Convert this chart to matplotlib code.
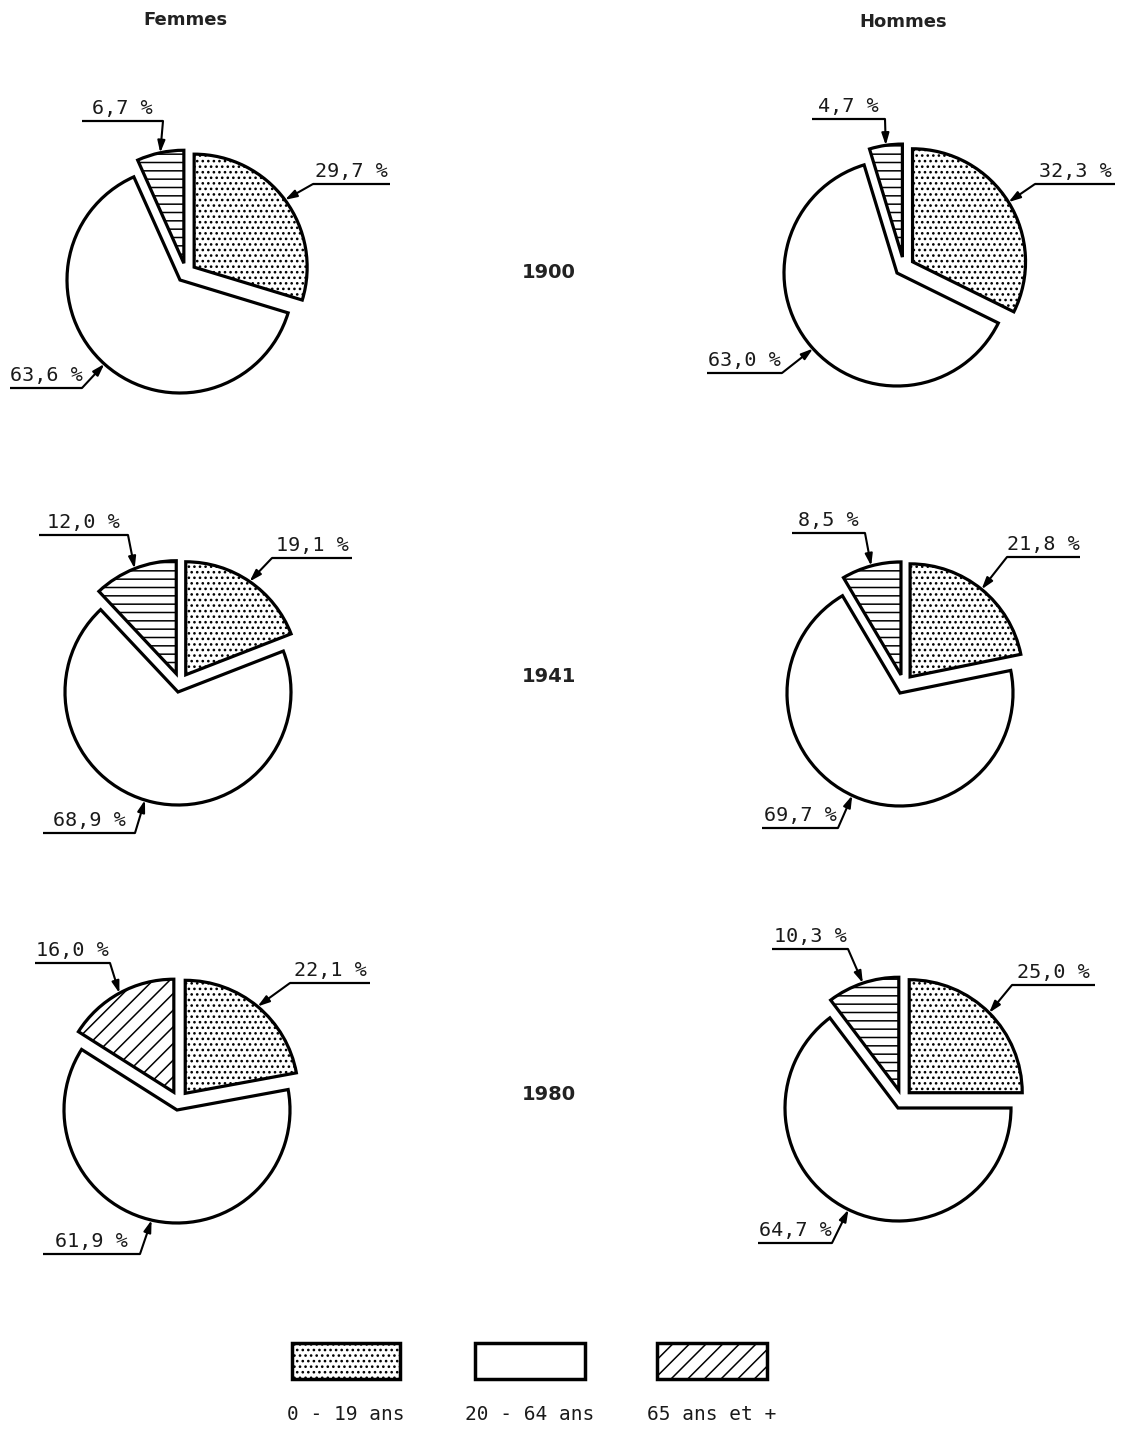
import numpy as np
import matplotlib.pyplot as plt
from matplotlib.patches import Rectangle

W, H = 1121, 1432

# Données
annees = ['1900', '1941', '1980']
ages = ['0 - 19 ans', '20 - 64 ans', '65 ans et +']
femmes_jeunes = [29.7, 19.1, 22.1]
femmes_actifs = [63.6, 68.9, 61.9]
femmes_vieux = [6.7, 12.0, 16.0]
hommes_jeunes = [32.3, 21.8, 25.0]
hommes_actifs = [63.0, 69.7, 64.7]
hommes_vieux = [4.7, 8.5, 10.3]

# Mise en page (pixels depuis le coin haut gauche)
rayon = 113
eclat = [0.09, 0.08, 0.09]
sommets_f = [(180, 280), (178, 692), (177, 1110)]
sommets_h = [(897, 273), (900, 693), (898, 1108)]
# soulignés : (x0, x1, y) pour jeunes, actifs, vieux
soul_f = [[(313, 390, 184), (10, 82, 388), (82, 163, 121)],
          [(272, 352, 558), (43, 135, 833), (39, 128, 535)],
          [(290, 370, 983), (43, 140, 1254), (35, 110, 963)]]
soul_h = [[(1035, 1115, 184), (707, 782, 373), (812, 885, 119)],
          [(1007, 1080, 557), (762, 838, 828), (792, 865, 533)],
          [(1012, 1095, 985), (758, 832, 1243), (772, 848, 949)]]
angle_actifs_f = [228, 253, 257]
angle_actifs_h = [222, 245, 244]
hachures_f = ['--', '--', '//']
hachures_h = ['--', '--', '--']

plt.rcParams['hatch.linewidth'] = 1.1
plt.rcParams['hatch.color'] = 'black'

fig = plt.figure(figsize=(W / 100, H / 100), dpi=100)
ax = fig.add_axes([0, 0, 1, 1])

mono = 'DejaVu Sans Mono'


def fmt(v):
    return ('%.1f' % v).replace('.', ',') + ' %'


def camembert(valeurs, sommet, soulignes, angle_actifs, hachure):
    # position du centre à partir du sommet de la part blanche
    tot = sum(valeurs)
    a1 = 90 - 360 * valeurs[0] / tot
    a2 = a1 - 360 * valeurs[1] / tot
    mid = np.radians((a1 + a2) / 2)
    cx = sommet[0] - eclat[1] * rayon * np.cos(mid)
    cy = (H - sommet[1]) - eclat[1] * rayon * np.sin(mid)

    wedges, _ = ax.pie(valeurs, center=(cx, cy), radius=rayon, startangle=90,
                       counterclock=False, explode=[e * rayon for e in eclat],
                       frame=True, colors=['white'] * 3,
                       hatch=['...', '', hachure],
                       wedgeprops=dict(edgecolor='black', linewidth=2.3))

    for i, w in enumerate(wedges):
        if i == 1:
            a = np.radians(angle_actifs)
        else:
            a = np.radians((w.theta1 + w.theta2) / 2)
        tip = (w.center[0] + w.r * np.cos(a), w.center[1] + w.r * np.sin(a))
        x0, x1, y = soulignes[i]
        Y = H - y
        ax.plot([x0, x1], [Y, Y], color='black', lw=1.6, solid_capstyle='butt')
        coude = (x0, Y) if i == 0 else (x1, Y)
        ax.annotate('', xy=tip, xytext=coude,
                    arrowprops=dict(arrowstyle='-|>,head_length=0.7,head_width=0.22',
                                    color='black', lw=1.5, shrinkA=0, shrinkB=0))
        ax.text((x0 + x1) / 2, Y + 3, fmt(valeurs[i]), ha='center', va='bottom',
                fontsize=14.5, family=mono, color='#1a1a1a')


for k in range(3):
    camembert([femmes_jeunes[k], femmes_actifs[k], femmes_vieux[k]],
              sommets_f[k], soul_f[k], angle_actifs_f[k], hachures_f[k])
    camembert([hommes_jeunes[k], hommes_actifs[k], hommes_vieux[k]],
              sommets_h[k], soul_h[k], angle_actifs_h[k], hachures_h[k])

# Titres
ax.text(185, H - 20, 'Femmes', ha='center', va='center', fontsize=13,
        fontweight='bold', color='#222')
ax.text(903, H - 22, 'Hommes', ha='center', va='center', fontsize=13,
        fontweight='bold', color='#222')
for annee, y in zip(annees, [272, 676, 1094]):
    ax.text(549, H - y, annee, ha='center', va='center', fontsize=14,
            fontweight='bold', color='#222')

# Légende
boites = [(292, 400), (475, 585), (657, 767)]
motifs = ['...', '', '//']
for (x0, x1), motif, lab in zip(boites, motifs, ages):
    ax.add_patch(Rectangle((x0, H - 1379), x1 - x0, 36, facecolor='white',
                           edgecolor='black', lw=2.5, hatch=motif))
    ax.text((x0 + x1) / 2, H - 1415, lab, ha='center', va='center',
            fontsize=14, family=mono, color='#1a1a1a')

ax.set_xlim(0, W)
ax.set_ylim(0, H)
ax.set_aspect('auto')
ax.axis('off')

fig.savefig('out.png', dpi=100, facecolor='white')
